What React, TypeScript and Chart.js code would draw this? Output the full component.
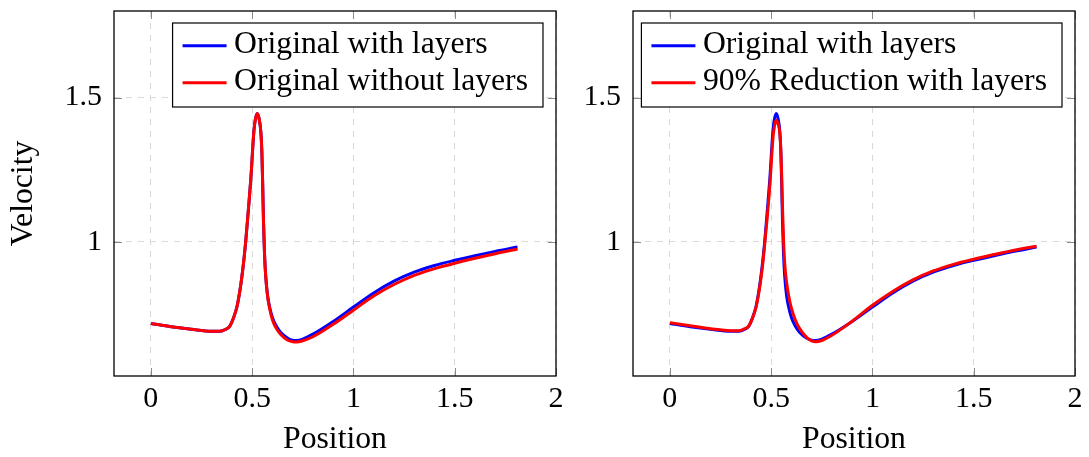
import React, { useEffect, useRef } from "react";
import { Chart, registerables } from "chart.js";

Chart.register(...registerables);

// ---- data ----
const positions = [
  0, 0.1, 0.2, 0.3, 0.34, 0.37, 0.39, 0.41, 0.425, 0.437, 0.447, 0.458, 0.468, 0.48, 0.493,
  0.509, 0.516, 0.525, 0.534, 0.543, 0.548, 0.552, 0.556, 0.561, 0.567, 0.576, 0.586, 0.6,
  0.619, 0.64, 0.676, 0.7, 0.72, 0.75, 0.8, 0.9, 1.0, 1.1, 1.2, 1.3, 1.4, 1.5, 1.6, 1.7, 1.81,
];

const originalWithLayers = [
  0.717, 0.706, 0.697, 0.69, 0.69, 0.697, 0.708, 0.74, 0.775, 0.82, 0.867, 0.93, 1.0, 1.1, 1.214,
  1.387, 1.425, 1.445, 1.428, 1.38, 1.31, 1.2, 1.07, 0.96, 0.88, 0.815, 0.775, 0.738,
  0.708, 0.687, 0.666, 0.659, 0.658, 0.663, 0.68, 0.724, 0.774, 0.823, 0.864, 0.895, 0.918, 0.936, 0.952, 0.967, 0.982,
];

const originalWithoutLayers = [
  0.717, 0.706, 0.697, 0.69, 0.69, 0.697, 0.708, 0.74, 0.775, 0.82, 0.867, 0.93, 1.0, 1.1, 1.214,
  1.387, 1.425, 1.445, 1.428, 1.38, 1.31, 1.2, 1.07, 0.96, 0.88, 0.812, 0.77, 0.73,
  0.7, 0.68, 0.659, 0.654, 0.653, 0.657, 0.671, 0.714, 0.763, 0.812, 0.852, 0.884, 0.907, 0.926, 0.943, 0.959, 0.975,
];

const reduction90WithLayers = [
  0.72, 0.709, 0.699, 0.692, 0.692, 0.699, 0.709, 0.74, 0.772, 0.815, 0.86, 0.92, 0.99, 1.08, 1.19,
  1.36, 1.4, 1.421, 1.41, 1.375, 1.315, 1.23, 1.12, 1.01, 0.925, 0.86, 0.815, 0.77,
  0.73, 0.7, 0.668, 0.657, 0.654, 0.658, 0.676, 0.725, 0.78, 0.828, 0.868, 0.899, 0.922, 0.94, 0.956, 0.971, 0.985,
];

const xTickValues = [0, 0.5, 1, 1.5, 2];
const yTickValues = [1, 1.5];
const xRange = [-0.182, 2.0];
const yRange = [0.535, 1.8];
const xTitle = "Position";
const yTitle = "Velocity";
const leftLabels = ["Original with layers", "Original without layers"];
const rightLabels = ["Original with layers", "90% Reduction with layers"];

const FONT = '"Liberation Serif", "Times New Roman", serif';
const BLUE = "#0000ff";
const RED = "#ff0000";

const frameLegendPlugin = {
  id: "frameLegend",
  afterDraw(chart: any) {
    const ctx = chart.ctx as CanvasRenderingContext2D;
    const ca = chart.chartArea;
    const xs = chart.scales.x;
    const ys = chart.scales.y;
    ctx.save();
    // inward tick marks
    ctx.strokeStyle = "#8a8a8a";
    ctx.lineWidth = 1;
    const tl = 8;
    xTickValues.forEach((v) => {
      const px = Math.round(xs.getPixelForValue(v)) + 0.5;
      ctx.beginPath();
      ctx.moveTo(px, ca.bottom);
      ctx.lineTo(px, ca.bottom - tl);
      ctx.moveTo(px, ca.top);
      ctx.lineTo(px, ca.top + tl);
      ctx.stroke();
    });
    yTickValues.forEach((v) => {
      const py = Math.round(ys.getPixelForValue(v)) + 0.5;
      ctx.beginPath();
      ctx.moveTo(ca.left, py);
      ctx.lineTo(ca.left + tl, py);
      ctx.moveTo(ca.right, py);
      ctx.lineTo(ca.right - tl, py);
      ctx.stroke();
    });
    // frame
    ctx.strokeStyle = "#000";
    ctx.lineWidth = 1.3;
    ctx.strokeRect(ca.left, ca.top, ca.right - ca.left, ca.bottom - ca.top);

    // legend (in dataset index order)
    const dsets = chart.data.datasets;
    ctx.font = `31.7px ${FONT}`;
    const textW = Math.max(...dsets.map((d: any) => ctx.measureText(d.label).width));
    const boxW = 10 + 44 + 7.5 + textW + 15;
    const boxH = 84;
    const right = ca.right - 13;
    const top = ca.top + 12;
    const left = right - boxW;
    ctx.fillStyle = "#fff";
    ctx.fillRect(left, top, boxW, boxH);
    ctx.strokeStyle = "#000";
    ctx.lineWidth = 1.2;
    ctx.strokeRect(left, top, boxW, boxH);
    dsets.forEach((d: any, i: number) => {
      const y = top + 22.7 + i * 37;
      ctx.strokeStyle = d.borderColor;
      ctx.lineWidth = 3;
      ctx.beginPath();
      ctx.moveTo(left + 10, y);
      ctx.lineTo(left + 54, y);
      ctx.stroke();
      ctx.fillStyle = "#000";
      ctx.textAlign = "left";
      ctx.textBaseline = "middle";
      ctx.fillText(d.label, left + 61.5, y - 1);
    });
    ctx.restore();
  },
};

function makeConfig(
  labels: string[],
  series: { values: number[]; color: string }[],
  showYTitle: boolean,
  yAxisWidth: number,
  padRight: number
): any {
  const n = series.length;
  return {
    type: "line",
    data: {
      datasets: series.map((s, i) => ({
        label: labels[i],
        data: positions.map((x, j) => ({ x, y: s.values[j] })),
        borderColor: s.color,
        backgroundColor: s.color,
        borderWidth: 3,
        pointRadius: 0,
        cubicInterpolationMode: "monotone",
        fill: false,
        order: n - i, // later series drawn on top
      })),
    },
    options: {
      responsive: false,
      animation: false,
      devicePixelRatio: 1,
      layout: { padding: { top: 11, right: padRight, left: 0, bottom: 0 } },
      plugins: { legend: { display: false }, tooltip: { enabled: false } },
      scales: {
        x: {
          type: "linear",
          min: xRange[0],
          max: xRange[1],
          afterBuildTicks: (s: any) => {
            s.ticks = xTickValues.map((v) => ({ value: v }));
          },
          afterFit: (s: any) => {
            s.height = 81;
            s.paddingLeft = 0;
            s.paddingRight = 0;
          },
          grid: { color: "#d9d9d9", drawTicks: false, lineWidth: 1 },
          border: { display: false, dash: [6, 6] },
          ticks: {
            font: { family: FONT, size: 30, lineHeight: 1.2 },
            color: "#000",
            padding: 5,
            maxRotation: 0,
            autoSkip: false,
            callback: (v: any) => String(v),
          },
          title: {
            display: true,
            text: xTitle,
            font: { family: FONT, size: 31.7, lineHeight: 1.1 },
            color: "#000",
            padding: 0,
          },
        },
        y: {
          type: "linear",
          min: yRange[0],
          max: yRange[1],
          afterBuildTicks: (s: any) => {
            s.ticks = yTickValues.map((v) => ({ value: v }));
          },
          afterFit: (s: any) => {
            s.width = yAxisWidth;
            s.paddingTop = 0;
            s.paddingBottom = 0;
          },
          grid: { color: "#d9d9d9", drawTicks: false, lineWidth: 1 },
          border: { display: false, dash: [6, 6] },
          ticks: {
            font: { family: FONT, size: 30, lineHeight: 1.2 },
            color: "#000",
            padding: 12,
            autoSkip: false,
            callback: (v: any) => String(v),
          },
          title: {
            display: showYTitle,
            text: yTitle,
            font: { family: FONT, size: 31.7, lineHeight: 1.2 },
            color: "#000",
            padding: { top: 5, bottom: 0 },
          },
        },
      },
    },
    plugins: [frameLegendPlugin],
  };
}

export default function App() {
  const leftRef = useRef<HTMLCanvasElement>(null);
  const rightRef = useRef<HTMLCanvasElement>(null);

  useEffect(() => {
    const left = new Chart(
      leftRef.current as HTMLCanvasElement,
      makeConfig(
        leftLabels,
        [
          { values: originalWithLayers, color: BLUE },
          { values: originalWithoutLayers, color: RED },
        ],
        true,
        114,
        19
      )
    );
    const right = new Chart(
      rightRef.current as HTMLCanvasElement,
      makeConfig(
        rightLabels,
        [
          { values: originalWithLayers, color: BLUE },
          { values: reduction90WithLayers, color: RED },
        ],
        false,
        58,
        14
      )
    );
    return () => {
      left.destroy();
      right.destroy();
    };
  }, []);

  return (
    <div
      style={{
        position: "fixed",
        left: 0,
        top: 0,
        width: 1089,
        height: 457,
        background: "#fff",
      }}
    >
      <canvas
        ref={leftRef}
        width={575}
        height={457}
        style={{ position: "absolute", left: 0, top: 0, width: 575, height: 457 }}
      />
      <canvas
        ref={rightRef}
        width={514}
        height={457}
        style={{ position: "absolute", left: 575, top: 0, width: 514, height: 457 }}
      />
    </div>
  );
}
